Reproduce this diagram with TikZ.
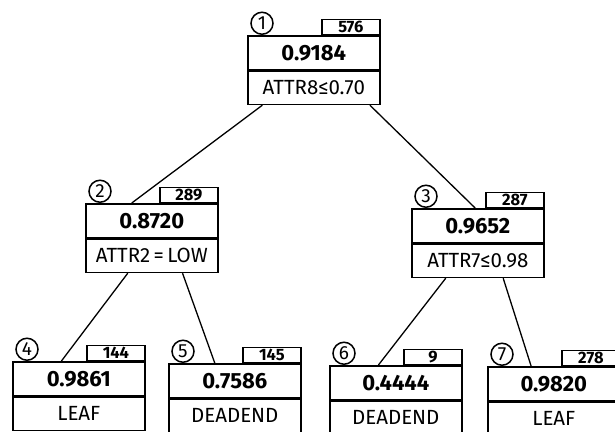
\documentclass[tikz,border=0pt]{standalone}
\usepackage{fontspec}
\setsansfont{Fira Sans}
\usetikzlibrary{calc,positioning}

\tikzset{
  valbox/.style={draw,line width=1.6pt,anchor=north west,minimum width=132pt,minimum height=34pt,inner sep=0pt,font=\sffamily\fontsize{22}{22}\selectfont\bfseries},
  lblbox/.style={draw,line width=1.6pt,minimum width=132pt,minimum height=33pt,inner sep=0pt,font=\sffamily\fontsize{20.5}{20.5}\selectfont},
  cntbox/.style={draw,line width=1.4pt,anchor=south east,minimum width=58pt,minimum height=15pt,inner sep=0pt,font=\sffamily\fontsize{16.5}{16.5}\selectfont\bfseries},
  numcirc/.style={draw,circle,line width=1.5pt,minimum size=22pt,inner sep=0pt,anchor=south,font=\sffamily\fontsize{19}{19}\selectfont},
  branch/.style={line width=1.3pt}
}

\begin{document}
\begin{tikzpicture}[x=1pt,y=-1pt]
\useasboundingbox (0,0) rectangle (615,431);
\foreach \k/\x/\y/\c/\v/\l in {1/247/35/576/0.9184/{ATTR8≤0.70},
    2/85/203/289/0.8720/{ATTR2\,=\,LOW},
    3/411/208/287/0.9652/{ATTR7≤0.98},
    4/12/361/144/0.9861/{LEAF},
    5/168/363/145/0.7586/{DEADEND},
    6/329/365/9/0.4444/{DEADEND},
    7/487/366/278/0.9820/{LEAF}}{
  \node[valbox] (v\k) at (\x,\y) {\v};
  \node[lblbox,below=0pt of v\k] (l\k) {\l};
  \node[cntbox] (c\k) at (v\k.north east) {\c};
  \node[numcirc] (o\k) at ($(v\k.north west)+(15,0)$) {\k};
}
\draw[branch] ($(l1.south west)!0.115!(l1.south east)$) -- ($(v2.north west)!0.35!(v2.north east)$);
\draw[branch] ($(l1.south west)!0.92!(l1.south east)$) -- ($(v3.north west)!0.48!(v3.north east)$);
\draw[branch] ($(l2.south west)!0.32!(l2.south east)$) -- ($(v4.north west)!0.37!(v4.north east)$);
\draw[branch] ($(l2.south west)!0.73!(l2.south east)$) -- ($(v5.north west)!0.35!(v5.north east)$);
\draw[branch] ($(l3.south west)!0.26!(l3.south east)$) -- ($(v6.north west)!0.37!(v6.north east)$);
\draw[branch] ($(l3.south west)!0.69!(l3.south east)$) -- ($(v7.north west)!0.33!(v7.north east)$);
\end{tikzpicture}
\end{document}
